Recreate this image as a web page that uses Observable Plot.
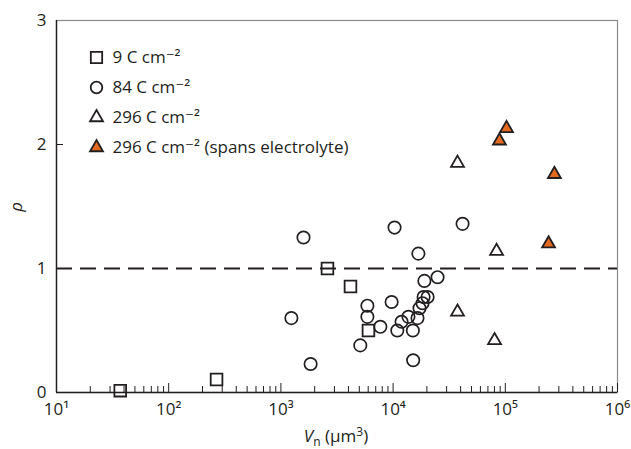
<!DOCTYPE html>
<html>
<head>
<meta charset="utf-8">
<script src="https://cdn.jsdelivr.net/npm/d3@7"></script>
<script src="https://cdn.jsdelivr.net/npm/@observablehq/plot@0.6"></script>
<style>
  html, body { margin: 0; padding: 0; background: #fff; }
  #chart svg { display: block; }
</style>
</head>
<body>
<div id="chart"></div>
<script>
// ---- data ----
const squareX = [37, 267, 2600, 4170, 6030];
const squareY = [0.015, 0.105, 1.0, 0.855, 0.5];

const circleX = [1240, 1590, 1840, 5100, 5900, 5900, 7700, 9700, 10300, 10900, 11900, 13700, 15000, 15100, 16500, 16800, 17200, 18300, 18700, 19000, 20300, 24900, 41600];
const circleY = [0.60, 1.25, 0.23, 0.38, 0.70, 0.61, 0.53, 0.73, 1.33, 0.50, 0.57, 0.61, 0.50, 0.26, 0.60, 1.12, 0.68, 0.72, 0.77, 0.90, 0.77, 0.93, 1.36];

const openTriX = [37500, 37500, 80200, 83600];
const openTriY = [1.85, 0.65, 0.42, 1.14];

const filledTriX = [88700, 102600, 274000, 243000];
const filledTriY = [2.03, 2.13, 1.76, 1.20];

const decadeTicks = [10, 100, 1000, 10000, 100000, 1000000];
const yTicks = [0, 1, 2, 3];
const legendLabels = ["9 C cm\u207B\u00B2", "84 C cm\u207B\u00B2", "296 C cm\u207B\u00B2", "296 C cm\u207B\u00B2 (spans electrolyte)"];
const legendSymbols = ["square", "circle", "triangle", "triangle"];
const legendFills = ["none", "none", "none", "#e2691f"];

const minorTicks = [];
for (let e = 1; e < 6; e++) for (let m = 2; m <= 9; m++) minorTicks.push(m * 10 ** e);

const toPts = (xs, ys) => xs.map((x, i) => ({x, y: ys[i]}));
const squares = toPts(squareX, squareY);
const circles = toPts(circleX, circleY);
const openTris = toPts(openTriX, openTriY);
const filledTris = toPts(filledTriX, filledTriY);

const sup = {"1": "\u00B9", "2": "\u00B2", "3": "\u00B3", "4": "\u2074", "5": "\u2075", "6": "\u2076"};
const ink = "#231f20";
const orange = "#e2691f";
const font = "'Open Sans', 'DejaVu Sans', sans-serif";

const W = 631, H = 449, mL = 56, mR = 14, mT = 20, mB = 57;
const plotH = H - mT - mB, plotW = W - mL - mR;

const legendRowDy = [37, 67, 97, 127];
const symR = {circle: 5.8, square: 6.4, triangle: 4.8};

const legendMarks = legendLabels.flatMap((label, i) => [
  Plot.dot([0], {frameAnchor: "top-left", dx: 40, dy: legendRowDy[i], symbol: legendSymbols[i],
    r: symR[legendSymbols[i]], fill: legendFills[i], stroke: ink, strokeWidth: 1.8}),
  Plot.text([label], {frameAnchor: "top-left", dx: 56, dy: legendRowDy[i], text: d => d,
    textAnchor: "start", lineAnchor: "middle", fill: ink, fontSize: 17})
]);

const chart = Plot.plot({
  width: W,
  height: H,
  marginLeft: mL,
  marginRight: mR,
  marginTop: mT,
  marginBottom: mB,
  style: {fontFamily: font, fontSize: "16px", color: ink, background: "#fff"},
  x: {type: "log", domain: [10, 1e6]},
  y: {domain: [0, 3]},
  marks: [
    Plot.frame({stroke: "#8a8a8a", strokeWidth: 1.2}),
    Plot.ruleY([1], {stroke: ink, strokeWidth: 2, strokeDasharray: "16,8"}),
    // ticks (inward)
    Plot.tickX(minorTicks, {x: d => d, stroke: ink, strokeWidth: 1, insetTop: plotH - 6}),
    Plot.tickX(decadeTicks, {x: d => d, stroke: ink, strokeWidth: 1, insetTop: plotH - 9}),
    Plot.tickY([1, 2], {y: d => d, stroke: ink, strokeWidth: 1, insetRight: plotW - 7}),
    Plot.axisX({ticks: decadeTicks, tickSize: 0, tickPadding: 10, label: null,
      tickFormat: d => "10" + sup[String(Math.round(Math.log10(d)))], fill: ink, fontSize: 17}),
    Plot.axisY({ticks: yTicks, tickSize: 0, tickPadding: 10, label: null, tickFormat: d => String(d), fill: ink, fontSize: 17}),
    Plot.ruleX([10], {stroke: ink, strokeWidth: 1.4}),
    Plot.ruleY([0], {stroke: ink, strokeWidth: 1.4}),
    // data
    Plot.dot(circles, {x: "x", y: "y", symbol: "circle", r: 6.2, stroke: ink, strokeWidth: 1.7, fill: "none"}),
    Plot.dot(squares, {x: "x", y: "y", symbol: "square", r: 6.6, stroke: ink, strokeWidth: 1.8, fill: "none"}),
    Plot.dot(openTris, {x: "x", y: "y", symbol: "triangle", r: 4.8, stroke: ink, strokeWidth: 1.8, fill: "none"}),
    Plot.dot(filledTris, {x: "x", y: "y", symbol: "triangle", r: 4.8, stroke: ink, strokeWidth: 1.8, fill: orange}),
    ...legendMarks
  ]
});

// axis titles
const svg = d3.select(chart);
const xt = svg.append("text")
  .attr("x", 336).attr("y", 442)
  .attr("text-anchor", "middle")
  .attr("fill", ink)
  .style("font-family", font).style("font-size", "17px");
xt.append("tspan").attr("font-style", "italic").text("V");
xt.append("tspan").attr("dy", 4).attr("font-size", "12px").text("n");
xt.append("tspan").attr("dy", -4).text(" (\u03BCm");
xt.append("tspan").attr("dy", -6).attr("font-size", "12px").text("3");
xt.append("tspan").attr("dy", 6).text(")");

svg.append("text")
  .attr("transform", "translate(22,207) rotate(-90)")
  .attr("text-anchor", "middle")
  .attr("fill", ink)
  .attr("font-style", "italic")
  .style("font-family", font).style("font-size", "17px")
  .text("\u03C1");

document.getElementById("chart").appendChild(chart);
</script>
</body>
</html>
